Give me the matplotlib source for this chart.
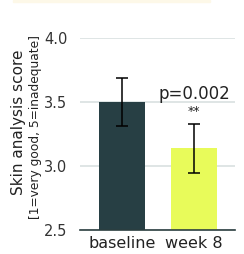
import matplotlib
matplotlib.use("Agg")
import matplotlib.pyplot as plt

# data
groups = ["baseline", "week 8"]
scores = [3.50, 3.14]
errors = [0.185, 0.19]
colors = ["#273f44", "#e8fb5a"]
yticks = [2.5, 3.0, 3.5, 4.0]
pval_text = "p=0.002"
stars = "**"

plt.rcParams['font.family'] = ['DejaVu Sans']

fig = plt.figure(figsize=(2.44, 2.54), dpi=100)
ax = fig.add_axes([0.328, 0.094, 0.635, 0.756])

x = list(range(len(groups)))
ax.bar(x, scores, width=0.64, color=colors, zorder=2)
ax.errorbar(x, scores, yerr=errors, fmt="none", ecolor="black",
            elinewidth=1.1, capsize=4, capthick=1.1, zorder=3)

ax.set_ylim(2.5, 4.0)
ax.set_xlim(-0.58, 1.57)
ax.set_yticks(yticks)
ax.set_yticklabels(["%.1f" % v for v in yticks], fontsize=10.5, color="#333333")
ax.set_xticks(x)
ax.set_xticklabels(groups, fontsize=11.5, color="#222222")
ax.tick_params(axis="y", length=0, pad=9)
ax.tick_params(axis="x", length=0, pad=4)

ax.grid(axis="y", color="#d9e0e0", linewidth=1.2, zorder=0)
ax.set_axisbelow(True)
for s in ["top", "right", "left"]:
    ax.spines[s].set_visible(False)
ax.spines["bottom"].set_color("#2b3e40")
ax.spines["bottom"].set_linewidth(1.2)
ax.spines["bottom"].set_zorder(4)

# significance annotation
ax.text(1, 3.565, pval_text, ha="center", va="center", fontsize=12, color="#222222")
ax.text(1, 3.43, stars, ha="center", va="center", fontsize=9, color="#222222")

# y label, two lines
fig.text(0.075, 0.52, "Skin analysis score", rotation=90, ha="center", va="center",
         fontsize=11, color="#222222")
fig.text(0.145, 0.5, "[1=very good, 5=inadequate]", rotation=90, ha="center", va="center",
         fontsize=8.8, color="#222222")

# faint band at the top
fig.patches.append(plt.Rectangle((0.053, 0.992), 0.807, 0.008, transform=fig.transFigure,
                                 color="#fdf8e8", zorder=0))

fig.savefig("out.png", dpi=100)
